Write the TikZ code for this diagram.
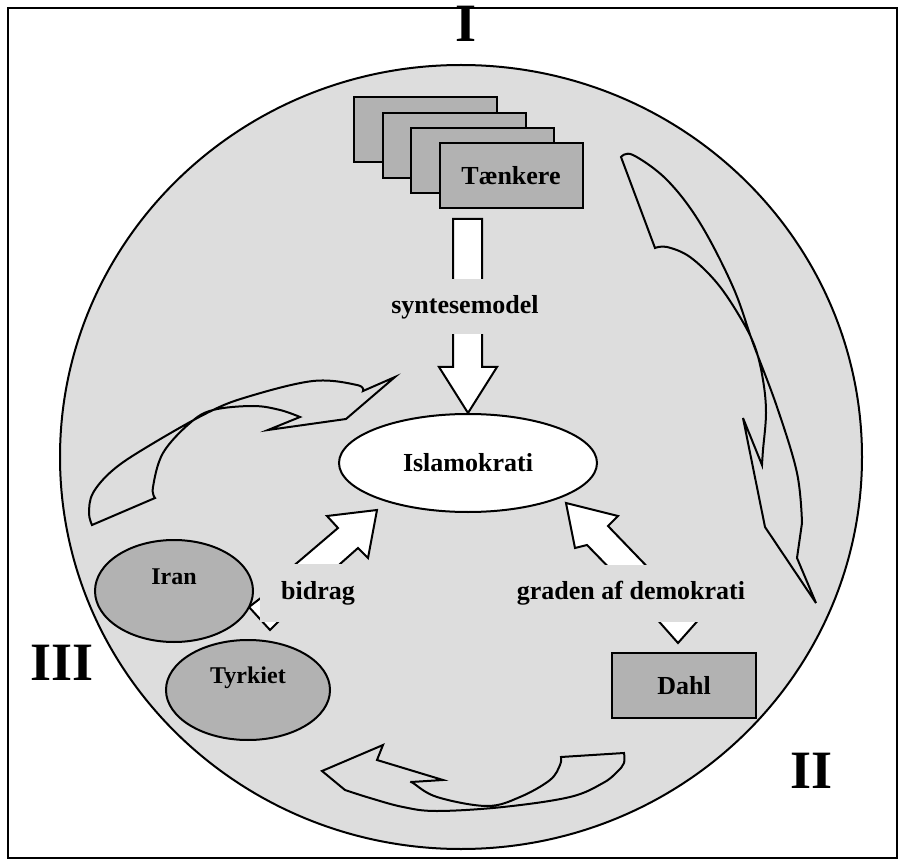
\documentclass[tikz,border=0pt]{standalone}
\usepackage{fontspec}
\setmainfont{Liberation Serif}
\usetikzlibrary{shapes.geometric,positioning}

\definecolor{discgray}{HTML}{DDDDDD}
\definecolor{boxgray}{HTML}{B2B2B2}

\tikzset{
  card/.style={draw, line width=1pt, fill=boxgray, rectangle, minimum width=71.5pt, minimum height=32.5pt, inner sep=0pt, font=\bfseries\fontsize{13}{15}\selectfont},
  land/.style={draw, line width=1pt, fill=boxgray, ellipse, inner sep=0pt},
  tag/.style={fill=discgray, inner sep=0pt, font=\bfseries\fontsize{13}{15}\selectfont},
  blockarrow/.style={draw, line width=1pt, fill=white, line join=miter},
  swirl/.style={draw, line width=1pt, line join=miter},
  roman/.style={font=\bfseries\fontsize{27}{30}\selectfont, inner sep=0pt},
}

\begin{document}
\begin{tikzpicture}[x=0.5pt, y=-0.5pt]
    \useasboundingbox (0,0) rectangle (900,866);
    \draw[line width=0.8pt] (8,8) rectangle (897,858);
    \draw[line width=1pt, fill=discgray] (461,457) ellipse [x radius=200.5pt, y radius=196pt];

    % cycle arrows
    \draw[swirl] (621,157) -- plot[smooth, tension=0.6] coordinates {(621,157) (633,155) (667,180) (700,223) (733,287) (753,343) (777,407) (797,473) (802,523)}
        -- (797,558) -- (816,603) -- (765,527) -- (743,418) -- (762,465)
        -- plot[smooth, tension=0.6] coordinates {(762,465) (763,450) (766,413) (763,380) (755,347) (740,317) (717,283) (690,257) (667,247) (655,248)} -- cycle;
    \draw[swirl] (561,757) -- (624,753) -- plot[smooth, tension=0.6] coordinates {(624,753) (624,763) (617,772) (603,783) (570,797) (503,807) (437,811) (403,807) (370,798) (345,790)}
        -- (322,771) -- (383,745) -- (377,760) -- (443,780) -- (411,782)
        -- plot[smooth, tension=0.6] coordinates {(411,782) (413,783) (437,797) (487,806) (520,797) (550,780) (560,765) (561,757)} -- cycle;
    \draw[swirl] (92,525) -- plot[smooth, tension=0.6] coordinates {(92,525) (89,513) (93,493) (113,470) (147,447) (207,413) (247,397) (313,381) (357,385) (363,391)}
        -- (395,377) -- (346,419) -- (268,430) -- (300,417)
        -- plot[smooth, tension=0.6] coordinates {(300,417) (280,410) (253,406) (213,410) (190,423) (163,453) (153,487) (155,498)} -- cycle;

    % thinkers
    \foreach \i/\cx/\cy in {1/425/130, 2/454/145.5, 3/482.5/160.5}
        \node[card] (back\i) at (\cx,\cy) {};
    \node[card] (thinkers) at (511,176) {Tænkere};

    \node[draw, line width=1pt, fill=white, ellipse, minimum width=129pt, minimum height=49pt, inner sep=0pt, font=\bfseries\fontsize{13}{15}\selectfont] (islam) at (468,463) {Islamokrati};

    % block arrows
    \draw[blockarrow] (453,219) -- (482,219) -- (482,367) -- (497,367) -- (islam.north) -- (439,367) -- (453,367) -- cycle;
    \draw[blockarrow] (377,510) -- (327,516) -- (338,528) -- (277,580) -- (322,580) -- (358,548) -- (368,558) -- cycle;
    \draw[blockarrow] (266,580) -- (266,594) -- (249,607) -- (270,630) -- (293,607) -- (283,598) -- (283,580) -- cycle;
    \draw[blockarrow] (566,503) -- (618,516) -- (608,526) -- (660,580) -- (621,580) -- (587,545) -- (575,548) -- cycle;
    \draw[blockarrow] (667,595) -- (667,608) -- (647,608) -- (678,643) -- (709,608) -- (689,608) -- (689,595) -- cycle;

    \node[tag, minimum width=20pt, minimum height=27.5pt] (synt) at (465,307) {syntesemodel};
    \node[tag, minimum width=58pt, minimum height=29pt] (bidrag) at (318,593) {bidrag};
    \node[tag, minimum width=111pt, minimum height=28.5pt] (graden) at (631,593) {graden af demokrati};

    % cases
    \node[land, minimum width=79pt, minimum height=51pt, label={[font=\bfseries\fontsize{12}{14}\selectfont, yshift=7pt]center:Iran}] (iran) at (174,591) {};
    \node[land, minimum width=82pt, minimum height=50pt, label={[font=\bfseries\fontsize{12}{14}\selectfont, yshift=6pt]center:Tyrkiet}] (tyrkiet) at (248,690) {};
    \node[card, minimum width=72pt] (dahl) at (684,685.5) {Dahl};

    \node[roman] (one) at (466,24) {I};
    \node[roman] (two) at (812,771) {II};
    \node[roman] (three) at (62,663) {III};
\end{tikzpicture}
\end{document}
